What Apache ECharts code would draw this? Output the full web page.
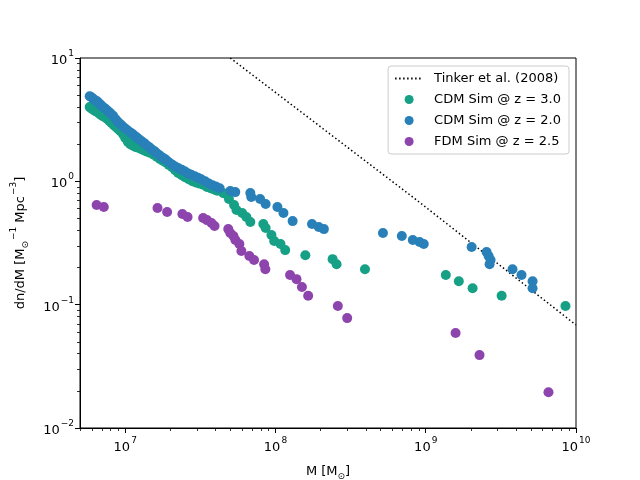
<!DOCTYPE html>
<html><head><meta charset="utf-8">
<script src="https://cdn.jsdelivr.net/npm/echarts@6/dist/echarts.min.js"></script>
<style>html,body{margin:0;padding:0;background:#fff}#c{width:640px;height:480px}</style>
</head><body><div id="c"></div>
<script>
// Tinker et al. (2008) reference curve [M, dn/dM]
const tinker = [[5.0e7,10],[8.7e8,0.705],[1e10,0.0684]];

// CDM Sim @ z = 3.0
const cdm3 = [[5.8e6,4.0],[5.95e6,3.9],[6.1e6,3.82],[6.3e6,3.72],[6.5e6,3.65],[6.7e6,3.55],[6.9e6,3.45],[7.1e6,3.38],[7.35e6,3.3],[7.6e6,3.2],[7.85e6,3.08],[8.1e6,2.97],[8.4e6,2.85],[8.7e6,2.75],[9.0e6,2.65],[9.3e6,2.55],[9.7e6,2.4],[1.0e7,2.25],[1.04e7,2.1],[1.08e7,2.0],[1.12e7,1.95],[1.17e7,1.9],[1.22e7,1.87],[1.28e7,1.82],[1.34e7,1.78],[1.4e7,1.74],[1.47e7,1.7],[1.55e7,1.64],[1.62e7,1.58],[1.7e7,1.52],[1.78e7,1.47],[1.86e7,1.42],[1.95e7,1.36],[2.05e7,1.3],[2.15e7,1.23],[2.25e7,1.17],[2.38e7,1.12],[2.5e7,1.08],[2.65e7,1.04],[2.8e7,1.0],[2.95e7,0.98],[3.1e7,0.96],[3.3e7,0.94],[3.5e7,0.9],[3.7e7,0.88],[3.9e7,0.86],[4.1e7,0.84],
 [4.5e7,0.80],[4.9e7,0.719],[5.3e7,0.643],[5.5e7,0.585],[6.0e7,0.553],[6.4e7,0.513],[6.8e7,0.468],[8.3e7,0.451],[8.6e7,0.418],[9.4e7,0.367],[9.8e7,0.328],[1.08e8,0.31],[1.16e8,0.277],[1.58e8,0.252],[2.4e8,0.234],[2.55e8,0.213],[3.94e8,0.194],[1.36e9,0.174],[1.66e9,0.155],[2.05e9,0.136],[3.2e9,0.118],[8.51e9,0.0975]];

// CDM Sim @ z = 2.0
const cdm2 = [[5.8e6,4.9],[5.95e6,4.8],[6.1e6,4.7],[6.3e6,4.55],[6.5e6,4.45],[6.7e6,4.3],[6.9e6,4.15],[7.1e6,4.0],[7.35e6,3.9],[7.6e6,3.75],[7.8e6,3.65],[8.0e6,3.55],[8.3e6,3.4],[8.6e6,3.2],[8.9e6,3.05],[9.3e6,2.9],[9.6e6,2.8],[1.0e7,2.68],[1.04e7,2.58],[1.09e7,2.48],[1.13e7,2.4],[1.18e7,2.3],[1.23e7,2.2],[1.28e7,2.12],[1.33e7,2.05],[1.38e7,1.97],[1.44e7,1.9],[1.5e7,1.82],[1.57e7,1.75],[1.63e7,1.68],[1.7e7,1.62],[1.78e7,1.55],[1.86e7,1.5],[1.95e7,1.43],[2.05e7,1.37],[2.15e7,1.32],[2.25e7,1.28],[2.38e7,1.24],[2.5e7,1.2],[2.62e7,1.16],[2.75e7,1.13],[2.9e7,1.1],[3.05e7,1.07],[3.2e7,1.04],[3.4e7,1.0],[3.6e7,0.96],[3.8e7,0.93],[4.0e7,0.91],[4.25e7,0.88],
 [5.0e7,0.834],[5.4e7,0.818],[6.8e7,0.803],[6.9e7,0.746],[7.9e7,0.719],[8.6e7,0.655],[1.03e8,0.619],[1.13e8,0.553],[1.3e8,0.476],[1.75e8,0.451],[1.94e8,0.426],[2.1e8,0.41],[5.19e8,0.381],[6.93e8,0.36],[8.2e8,0.334],[9.1e8,0.322],[9.7e8,0.31],[2.02e9,0.293],[2.54e9,0.267],[2.62e9,0.248],[2.7e9,0.23],[2.66e9,0.213],[3.78e9,0.194],[4.34e9,0.174],[5.14e9,0.155],[5.14e9,0.136]];

// FDM Sim @ z = 2.5
const fdm = [[6.45e6,0.643],[7.2e6,0.619],[1.64e7,0.607],[1.9e7,0.564],[2.4e7,0.543],[2.6e7,0.513],[3.3e7,0.504],[3.5e7,0.485],[3.75e7,0.459],[3.93e7,0.434],[4.85e7,0.41],[5.0e7,0.381],[5.25e7,0.36],[5.41e7,0.334],[5.75e7,0.31],[5.93e7,0.272],[6.7e7,0.248],[7.2e7,0.23],[8.4e7,0.213],[8.56e7,0.194],[1.25e8,0.174],[1.38e8,0.161],[1.5e8,0.139],[1.65e8,0.118],[2.6e8,0.0975],[3.0e8,0.0778],[1.58e9,0.0589],[2.28e9,0.039],[6.56e9,0.0195]];

// axis ticks
const xMajorTicks = [1e7, 1e8, 1e9, 1e10];
const yMajorTicks = [1e-2, 1e-1, 1, 10];
const xMinorTicks = [5e6,6e6,7e6,8e6,9e6,2e7,3e7,4e7,5e7,6e7,7e7,8e7,9e7,2e8,3e8,4e8,5e8,6e8,7e8,8e8,9e8,2e9,3e9,4e9,5e9,6e9,7e9,8e9,9e9];
const yMinorTicks = [2e-2,3e-2,4e-2,5e-2,6e-2,7e-2,8e-2,9e-2,2e-1,3e-1,4e-1,5e-1,6e-1,7e-1,8e-1,9e-1,2,3,4,5,6,7,8,9];

const FONT = 'DejaVu Sans';
const rich = {
  b: {fontSize: 13, fontFamily: FONT, color: '#000', lineHeight: 18, verticalAlign: 'bottom'},
  sup: {fontSize: 9, fontFamily: FONT, color: '#000', lineHeight: 18, verticalAlign: 'top', padding: [0,0,0,1]},
  sub: {fontSize: 9, fontFamily: FONT, color: '#000', lineHeight: 18, verticalAlign: 'bottom', padding: [0,0,-3,0]}
};
function powLabel(v) {
  const e = Math.round(Math.log10(v));
  return '{b|10}{sup|' + String(e).replace('-', '\u2212') + '}';
}
const XMIN = 5e6, XMAX = 1e10, YMIN = 1e-2, YMAX = 10;

const chart = echarts.init(document.getElementById('c'), null, {renderer: 'canvas'});
chart.setOption({
  animation: false,
  backgroundColor: '#fff',
  grid: {left: 80, right: 64, top: 58, bottom: 52, containLabel: false, outerBoundsMode: 'none',
         show: true, borderColor: '#000', borderWidth: 1, backgroundColor: 'transparent'},
  legend: {
    orient: 'vertical', right: 71, top: 66,
    itemWidth: 28, itemHeight: 9, itemGap: 8,
    padding: [6, 8, 6, 6],
    borderColor: '#cccccc', borderWidth: 1, borderRadius: 3,
    backgroundColor: 'rgba(255,255,255,0.8)',
    textStyle: {fontSize: 13, fontFamily: FONT, color: '#000', padding: [0,0,0,6]},
    data: [
      {name: 'Tinker et al. (2008)', itemStyle: {opacity: 0}},
      {name: 'CDM Sim @ z = 3.0', icon: 'circle'},
      {name: 'CDM Sim @ z = 2.0', icon: 'circle'},
      {name: 'FDM Sim @ z = 2.5', icon: 'circle'}
    ]
  },
  xAxis: [{
    type: 'log', logBase: 10, min: XMIN, max: XMAX, position: 'bottom',
    name: '{b|M [M}{sub|\u2299}{b|]}', nameLocation: 'middle', nameGap: 32,
    nameTextStyle: {rich: rich},
    axisLine: {show: true, lineStyle: {color: '#000', width: 1}},
    axisTick: {show: true, length: 5, inside: false, customValues: xMajorTicks, lineStyle: {color: '#000', width: 1}},
    axisLabel: {show: true, customValues: xMajorTicks, formatter: powLabel, rich: rich, margin: 8},
    splitLine: {show: false}, minorTick: {show: false}
  }, {
    type: 'log', logBase: 10, min: XMIN, max: XMAX, position: 'bottom', gridIndex: 0,
    axisLine: {show: false},
    axisTick: {show: true, length: 3, customValues: xMinorTicks, lineStyle: {color: '#000', width: 0.8}},
    axisLabel: {show: false}, splitLine: {show: false}
  }],
  yAxis: [{
    type: 'log', logBase: 10, min: YMIN, max: YMAX, position: 'left',
    name: '{b|dn/dM [M}{sub|\u2299}{sup|\u22121}{b| Mpc}{sup|\u22123}{b|]}', nameLocation: 'middle', nameGap: 53, nameRotate: 90,
    nameTextStyle: {rich: rich},
    axisLine: {show: true, lineStyle: {color: '#000', width: 1}},
    axisTick: {show: true, length: 5, customValues: yMajorTicks, lineStyle: {color: '#000', width: 1}},
    axisLabel: {show: true, customValues: yMajorTicks, formatter: powLabel, rich: rich, margin: 6},
    splitLine: {show: false}, minorTick: {show: false}
  }, {
    type: 'log', logBase: 10, min: YMIN, max: YMAX, position: 'left', gridIndex: 0,
    axisLine: {show: false},
    axisTick: {show: true, length: 3, customValues: yMinorTicks, lineStyle: {color: '#000', width: 0.8}},
    axisLabel: {show: false}, splitLine: {show: false}
  }],
  series: [
    {name: 'Tinker et al. (2008)', type: 'line', data: tinker, showSymbol: false, symbol: 'none', smooth: false,
     lineStyle: {color: '#000', width: 1.5, type: [1.5, 2.5]}, itemStyle: {color: '#000'}, z: 2, clip: true},
    {name: 'CDM Sim @ z = 3.0', type: 'scatter', data: cdm3, symbolSize: 10, itemStyle: {color: '#16a085', opacity: 1}, z: 3},
    {name: 'CDM Sim @ z = 2.0', type: 'scatter', data: cdm2, symbolSize: 10, itemStyle: {color: '#2980b9', opacity: 1}, z: 4},
    {name: 'FDM Sim @ z = 2.5', type: 'scatter', data: fdm, symbolSize: 10, itemStyle: {color: '#8e44ad', opacity: 1}, z: 5}
  ]
});
</script>
</body></html>
